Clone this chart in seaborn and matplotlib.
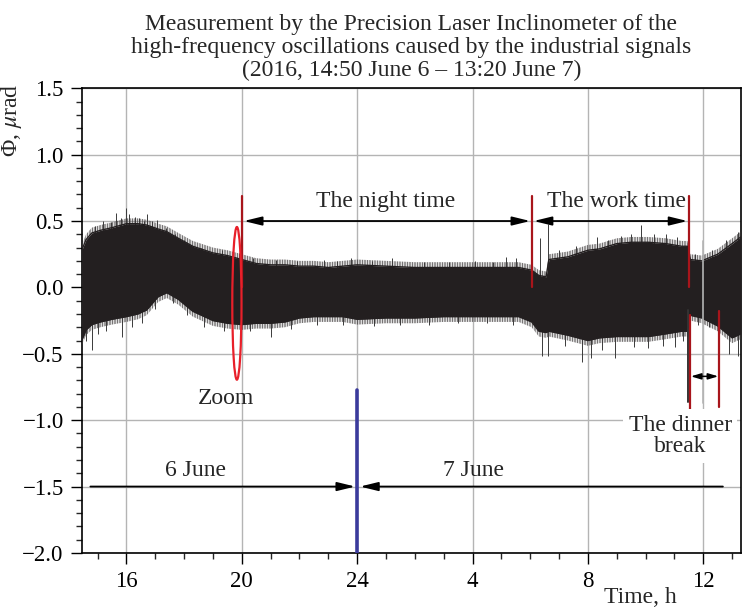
import matplotlib
matplotlib.use("Agg")
import matplotlib.pyplot as plt
from matplotlib.patches import Ellipse
from matplotlib.ticker import MultipleLocator
import seaborn as sns
import pandas as pd

# envelope of the recorded signal (hours since 0:00 June 6, value in microrad)
times = [14.45, 14.6, 14.8, 15.1, 15.5, 16.0, 16.4, 16.7, 17.1, 17.4, 17.8, 18.3,
         19.0, 19.5, 20.0, 20.5, 21.0, 21.5, 22.0, 22.5, 23.0, 23.5, 24.0, 25.0,
         26.0, 27.0, 28.0, 29.0, 29.6, 30.05, 30.3, 30.55, 30.65, 31.3, 32.0, 32.4,
         33.0, 33.5, 34.1, 34.7, 35.25, 35.45, 35.55, 35.95, 36.5, 37.0, 37.3]
upper = [0.28, 0.36, 0.41, 0.43, 0.45, 0.48, 0.48, 0.47, 0.44, 0.42, 0.37, 0.31,
         0.26, 0.24, 0.21, 0.18, 0.17, 0.17, 0.16, 0.16, 0.15, 0.16, 0.17, 0.16,
         0.15, 0.15, 0.15, 0.15, 0.15, 0.13, 0.09, 0.08, 0.21, 0.23, 0.28, 0.29,
         0.33, 0.34, 0.34, 0.33, 0.31, 0.31, 0.21, 0.20, 0.25, 0.33, 0.38]
lower = [-0.40, -0.32, -0.28, -0.26, -0.24, -0.22, -0.20, -0.17, -0.07, -0.04, -0.09, -0.18,
         -0.25, -0.27, -0.28, -0.27, -0.27, -0.26, -0.23, -0.22, -0.22, -0.22, -0.24, -0.23,
         -0.23, -0.22, -0.22, -0.22, -0.22, -0.26, -0.33, -0.34, -0.33, -0.36, -0.40, -0.38,
         -0.37, -0.37, -0.37, -0.35, -0.33, -0.33, -0.21, -0.23, -0.29, -0.38, -0.35]
fringe = 0.04  # width of the fuzzy edge of the band

# single spikes sticking out of the band
spike_t = [14.55, 14.9, 15.2, 15.45, 15.64, 15.8, 16.0, 16.1, 16.3, 16.45, 16.6, 16.73,
           16.9, 17.07, 17.38, 17.7, 18.0, 18.6, 19.3, 19.9, 20.4, 21.2, 21.9, 22.85,
           23.3, 23.8, 24.5, 25.2, 26.3, 27.2, 28.1, 28.7, 29.15, 29.5, 30.35, 30.63,
           31.0, 31.6, 32.3, 32.7, 33.16, 33.5, 33.85, 34.3, 34.7, 35.1, 35.7, 36.3,
           36.8, 37.2,
           14.43, 14.6, 14.82, 15.0, 15.3, 15.86, 16.2, 16.55, 17.0, 17.6, 18.1, 18.7,
           19.4, 20.3, 21.0, 21.7, 22.6, 23.5, 24.6, 25.5, 26.5, 27.5, 28.5, 29.4,
           30.4, 30.6, 31.2, 31.78, 32.1, 32.5, 32.95, 33.6, 34.1, 34.6, 35.03, 35.3,
           35.8, 36.2, 36.9, 37.2]
spike_v = [0.33, 0.46, 0.50, 0.49, 0.56, 0.52, 0.60, 0.55, 0.53, 0.52, 0.50, 0.55,
           0.50, 0.51, 0.45, 0.40, 0.36, 0.30, 0.28, 0.26, 0.22, 0.21, 0.20, 0.21,
           0.20, 0.22, 0.20, 0.22, 0.19, 0.19, 0.20, 0.19, 0.23, 0.22, 0.37, 0.48,
           0.28, 0.31, 0.38, 0.36, 0.39, 0.40, 0.47, 0.40, 0.40, 0.38, 0.25, 0.28,
           0.36, 0.42,
           -0.45, -0.40, -0.47, -0.35, -0.33, -0.37, -0.30, -0.27, -0.16, -0.12, -0.21, -0.30,
           -0.33, -0.33, -0.37, -0.31, -0.28, -0.28, -0.29, -0.28, -0.28, -0.27, -0.27, -0.28,
           -0.52, -0.52, -0.44, -0.56, -0.53, -0.47, -0.53, -0.45, -0.46, -0.44, -0.45, -0.40,
           -0.28, -0.30, -0.50, -0.52]

tick_pos = [16, 20, 24, 28, 32, 36]
tick_lab = ["16", "20", "24", "4", "8", "12"]

night_start, night_end, work_end = 20.02, 30.05, 35.5
dinner_start, dinner_end = 35.55, 36.54

sns.set_theme(style="white")
plt.rcParams["font.family"] = ["Liberation Serif", "DejaVu Serif"]
plt.rcParams["mathtext.fontset"] = "stix"
plt.rcParams["hatch.linewidth"] = 0.5

df = pd.DataFrame({"t": times, "up": upper, "lo": lower})

fig = plt.figure(figsize=(7.43, 6.13), dpi=100)
ax = fig.add_axes([0.110, 0.098, 0.887, 0.758])

band = "#231f20"
ax.vlines(spike_t, 0, spike_v, color="#3a3a3a", lw=0.7, zorder=2)
ax.fill_between(df["t"], df["lo"], df["up"], color=band, lw=0, zorder=3)
ax.fill_between(df["t"], df["up"], df["up"] + fringe, facecolor="none",
                edgecolor="#3c3839", hatch="||||||||||", lw=0, zorder=3)
ax.fill_between(df["t"], df["lo"] - fringe, df["lo"], facecolor="none",
                edgecolor="#3c3839", hatch="||||||||||", lw=0, zorder=3)
sns.lineplot(data=df, x="t", y="up", ax=ax, color=band, lw=1.0, zorder=3)
sns.lineplot(data=df, x="t", y="lo", ax=ax, color=band, lw=1.0, zorder=3)

ax.set_xlim(14.45, 37.3)
ax.set_ylim(-2.0, 1.5)
ax.set_xticks(tick_pos)
ax.set_xticklabels(tick_lab)
ax.xaxis.set_minor_locator(MultipleLocator(1))
ax.yaxis.set_major_locator(MultipleLocator(0.5))
ax.yaxis.set_minor_locator(MultipleLocator(0.1))
ax.tick_params(which="major", direction="out", length=8, width=1, labelsize=16.5,
               pad=5, bottom=True, left=True, colors="black")
ax.tick_params(which="minor", direction="out", length=4, width=1, bottom=True, left=True)
ax.grid(True, which="major", color="#b4b4b4", lw=1.0, zorder=0)
for s in ax.spines.values():
    s.set_color("black")
    s.set_linewidth(1.2)

ax.set_title("Measurement by the Precision Laser Inclinometer of the\n"
             "high-frequency oscillations caused by the industrial signals\n"
             "(2016, 14:50 June 6 \u2013 13:20 June 7)",
             fontsize=17, linespacing=1.1, pad=9)
ax.set_ylabel("\u03a6, $\\mu$rad", fontsize=17)
ax.yaxis.set_label_coords(-0.088, 0.931)
ax.set_xlabel("Time, h", fontsize=17)
ax.xaxis.set_label_coords(0.848, -0.074)

# gray line through the band at 12 h
ax.plot([36, 36], [0.35, -0.87], color="#b4b4b4", lw=1.2, zorder=4)

# markers of night / work time
dark_red = "#a8151b"
for x in (night_start, night_end, work_end):
    ax.plot([x, x], [0.0, 0.69], color=dark_red, lw=1.6, zorder=5)
ax.plot([35.46, 35.46], [-0.17, -0.86], color="#333333", lw=1.4, zorder=5)
ax.plot([dinner_start, dinner_start], [-0.21, -0.92], color=dark_red, lw=1.6, zorder=5)
ax.plot([dinner_end, dinner_end], [-0.18, -0.90], color=dark_red, lw=1.6, zorder=5)

arrow = dict(arrowstyle="<|-|>,head_length=0.9,head_width=0.22", color="black",
             lw=1.3, shrinkA=0, shrinkB=0)
ax.annotate("", xy=(night_start + 0.05, 0.5), xytext=(night_end - 0.05, 0.5),
            arrowprops=arrow, zorder=6)
ax.annotate("", xy=(night_end + 0.07, 0.5), xytext=(work_end - 0.05, 0.5),
            arrowprops=arrow, zorder=6)
small = dict(arrowstyle="<|-|>,head_length=0.5,head_width=0.15", color="black",
             lw=1.1, shrinkA=0, shrinkB=0)
ax.annotate("", xy=(dinner_start + 0.02, -0.67), xytext=(dinner_end - 0.02, -0.67),
            arrowprops=small, zorder=6)
ax.text(25.0, 0.645, "The night time", ha="center", va="center", fontsize=17, zorder=6)
ax.text(33.0, 0.645, "The work time", ha="center", va="center", fontsize=17, zorder=6)

# zoom mark
ax.add_patch(Ellipse((19.83, -0.12), 0.32, 1.15, fill=False, ec="#e8202a", lw=1.6, zorder=6))
ax.text(19.46, -0.84, "Zoom", ha="center", va="center", fontsize=17)

ax.text(35.2, -1.12, "The dinner\nbreak", ha="center", va="center", fontsize=17,
        linespacing=1.05, zorder=6,
        bbox=dict(facecolor="white", edgecolor="none", pad=4))

# day boundary
ax.plot([24, 24], [-0.77, -2.0], color="#3b3b9c", lw=2.6, zorder=5)
head = dict(arrowstyle="-|>,head_length=0.9,head_width=0.22", color="black",
            lw=1.3, shrinkA=0, shrinkB=0)
ax.annotate("", xy=(23.93, -1.5), xytext=(14.75, -1.5), arrowprops=head, zorder=6)
ax.annotate("", xy=(24.1, -1.5), xytext=(36.68, -1.5), arrowprops=head, zorder=6)
ax.text(18.4, -1.38, "6 June", ha="center", va="center", fontsize=17)
ax.text(28.04, -1.38, "7 June", ha="center", va="center", fontsize=17)

fig.savefig("out.png", dpi=100)
